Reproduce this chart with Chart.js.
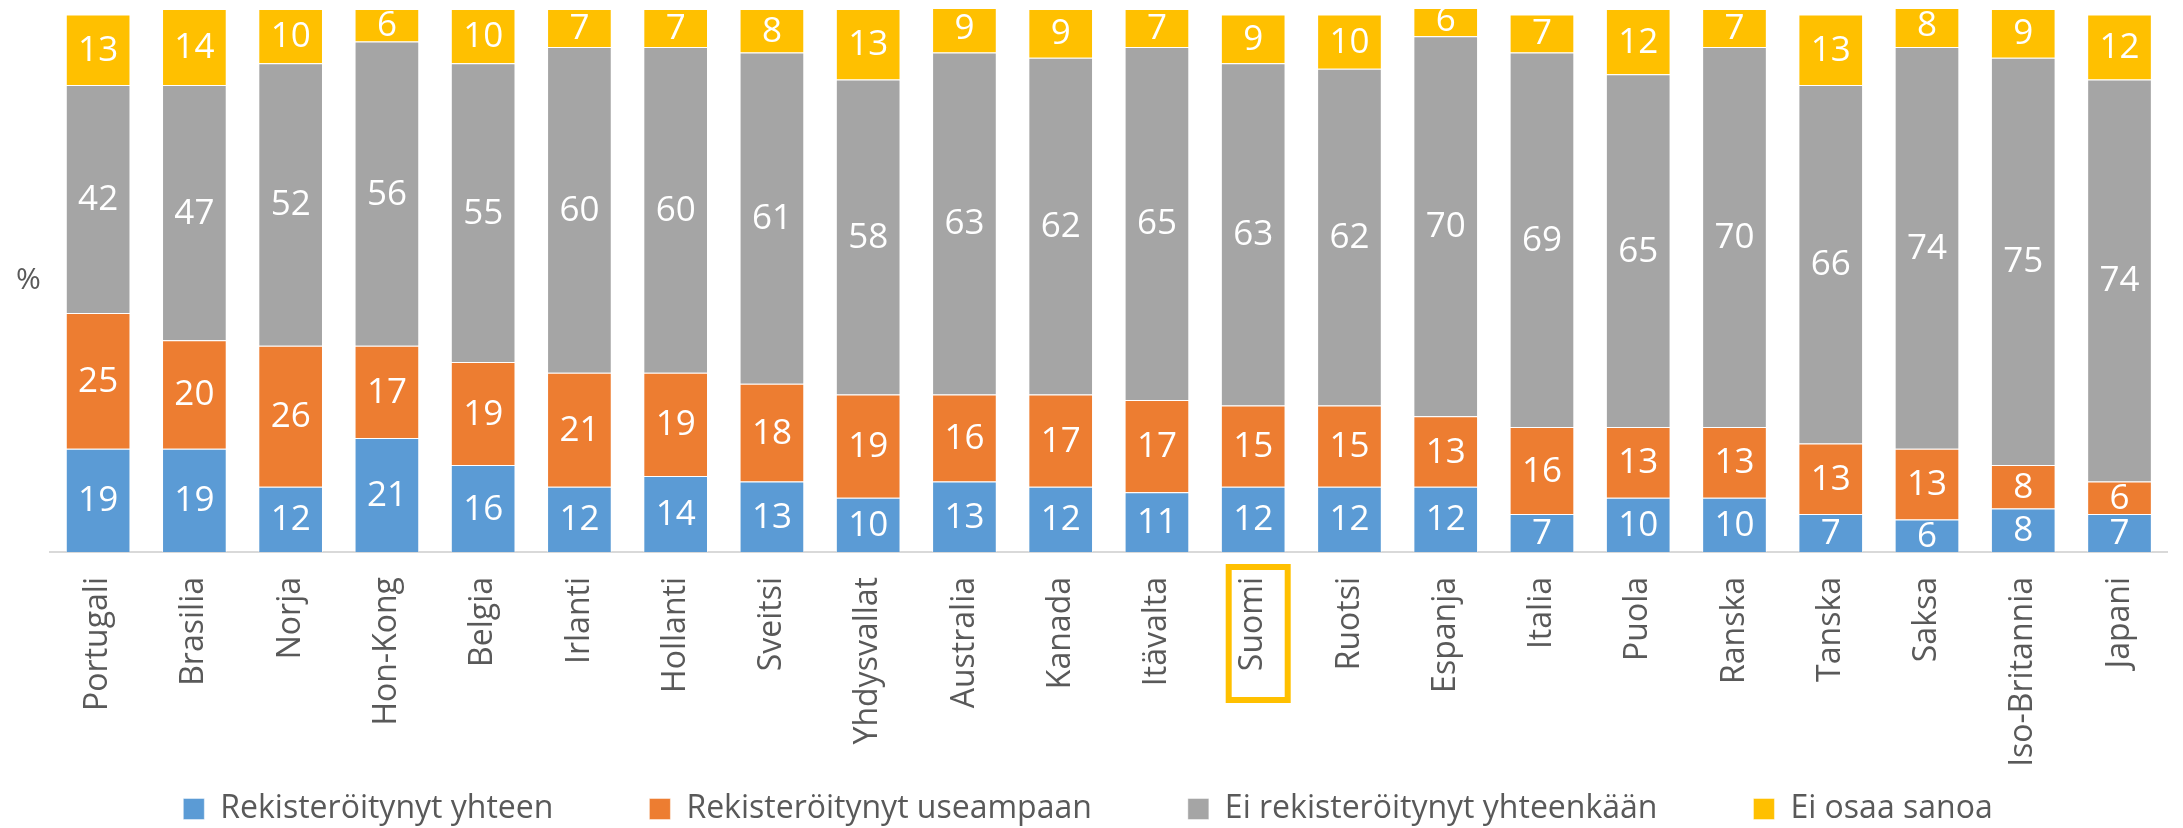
<!DOCTYPE html>
<html>
<head>
<meta charset="utf-8">
<script src="https://cdn.jsdelivr.net/npm/chart.js@4/dist/chart.umd.min.js"></script>
<style>
html,body{margin:0;padding:0;background:#ffffff;}
canvas{display:block;}
</style>
</head>
<body>
<canvas id="c" width="2183" height="828"></canvas>
<script>
const categories = ['Portugali','Brasilia','Norja','Hon-Kong','Belgia','Irlanti','Hollanti','Sveitsi','Yhdysvallat','Australia','Kanada','Itävalta','Suomi','Ruotsi','Espanja','Italia','Puola','Ranska','Tanska','Saksa','Iso-Britannia','Japani'];
const rekisteroitynytYhteen =   [19,19,12,21,16,12,14,13,10,13,12,11,12,12,12, 7,10,10, 7, 6, 8, 7];
const rekisteroitynytUseampaan = [25,20,26,17,19,21,19,18,19,16,17,17,15,15,13,16,13,13,13,13, 8, 6];
const eiRekisteroitynyt =        [42,47,52,56,55,60,60,61,58,63,62,65,63,62,70,69,65,70,66,74,75,74];
const eiOsaaSanoa =              [13,14,10, 6,10, 7, 7, 8,13, 9, 9, 7, 9,10, 6, 7,12, 7,13, 8, 9,12];
const seriesNames = ['Rekisteröitynyt yhteen','Rekisteröitynyt useampaan','Ei rekisteröitynyt yhteenkään','Ei osaa sanoa'];
const seriesColors = ['#5B9BD5','#ED7D31','#A5A5A5','#FFC000'];
const yAxisLabel = '%';
const highlightCategory = 'Suomi';

const FONT = '"Open Sans", "Noto Sans", sans-serif';
const TEXT_GRAY = '#595959';
const PLOT_BOTTOM = 552;
const PAD_BOTTOM = -7;
const LEGEND_CENTER_X = 1088;

const seriesData = [rekisteroitynytYhteen, rekisteroitynytUseampaan, eiRekisteroitynyt, eiOsaaSanoa];

const extras = {
  id: 'extras',
  afterLayout(chart) {
    // let rotated tick labels extend below the axis box, and centre the legend on the canvas
    const xs = chart.scales.x;
    xs.bottom = chart.height;
    const lg = chart.legend;
    if (lg) {
      const w = lg.right - lg.left;
      lg.left = LEGEND_CENTER_X - w / 2;
      lg.right = LEGEND_CENTER_X + w / 2;
    }
  },
  afterDatasetsDraw(chart) {
    const ctx = chart.ctx;
    ctx.save();
    ctx.font = '35px ' + FONT;
    ctx.fillStyle = '#ffffff';
    ctx.textAlign = 'center';
    ctx.textBaseline = 'middle';
    chart.data.datasets.forEach((ds, di) => {
      const meta = chart.getDatasetMeta(di);
      meta.data.forEach((el, i) => {
        const p = el.getProps(['x', 'y', 'base'], true);
        ctx.fillText(String(ds.data[i]), p.x, (p.y + p.base) / 2 + 1);
      });
    });
    ctx.restore();
  },
  afterDraw(chart) {
    const ctx = chart.ctx;
    const ca = chart.chartArea;
    ctx.save();
    ctx.font = '30px ' + FONT;
    ctx.fillStyle = TEXT_GRAY;
    ctx.textAlign = 'center';
    ctx.textBaseline = 'middle';
    ctx.fillText(yAxisLabel, 28.5, (ca.top + ca.bottom) / 2);
    const xs = chart.scales.x;
    const idx = categories.indexOf(highlightCategory);
    const cx = xs.getPixelForValue(idx);
    ctx.strokeStyle = '#FFC000';
    ctx.lineWidth = 6;
    ctx.strokeRect(cx - 24.5, ca.bottom + 15, 59, 133);
    ctx.restore();
  }
};

new Chart(document.getElementById('c'), {
  type: 'bar',
  data: {
    labels: categories,
    datasets: seriesNames.map((name, i) => ({
      label: name,
      data: seriesData[i],
      backgroundColor: seriesColors[i],
      borderColor: 'rgba(255,255,255,0.45)',
      borderWidth: 1,
      borderSkipped: 'start',
      barPercentage: 0.672,
      categoryPercentage: 1.0
    }))
  },
  options: {
    responsive: false,
    devicePixelRatio: 1,
    animation: false,
    layout: { padding: { left: 50, right: 4, top: 9, bottom: PAD_BOTTOM } },
    plugins: {
      legend: {
        position: 'bottom',
        labels: {
          font: { family: FONT, size: 32 },
          color: TEXT_GRAY,
          boxWidth: 21,
          boxHeight: 21,
          padding: 96
        }
      },
      tooltip: { enabled: false }
    },
    scales: {
      x: {
        stacked: true,
        grid: { display: false, drawTicks: false },
        border: { display: true, color: '#D9D9D9', width: 2 },
        ticks: {
          autoSkip: false,
          maxRotation: 90,
          minRotation: 90,
          padding: 25,
          color: TEXT_GRAY,
          font: { family: FONT, size: 32 }
        },
        afterFit(scale) {
          const lg = scale.chart.legend;
          const lh = lg ? lg.height : 0;
          scale.height = scale.chart.height - PAD_BOTTOM - PLOT_BOTTOM - lh;
        }
      },
      y: {
        display: false,
        stacked: true,
        min: 0,
        max: 100
      }
    }
  },
  plugins: [extras]
});
</script>
</body>
</html>
